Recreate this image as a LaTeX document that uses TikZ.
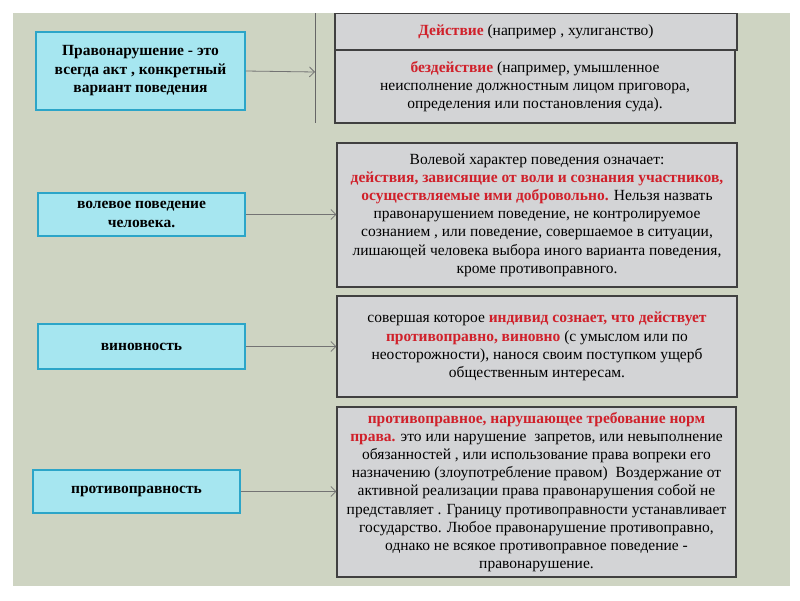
\documentclass[tikz,border=0pt]{standalone}
\usepackage{fontspec}
\setmainfont{Liberation Serif}
\usetikzlibrary{arrows.meta}
\definecolor{bg}{HTML}{CED4C2}
\definecolor{cy}{HTML}{A6E6F0}
\definecolor{cyb}{HTML}{2CA5C8}
\definecolor{gr}{HTML}{D3D4D6}
\definecolor{rd}{HTML}{D0202A}
\newcommand{\R}[1]{\textcolor{rd}{\textbf{#1}}}
\tikzset{
 lbox/.style={draw=cyb,fill=cy,line width=1.5pt,font=\fontsize{15.5}{18.5}\selectfont\bfseries,align=center,inner sep=0pt},
 gbox/.style={draw=black!75,fill=gr,line width=1.2pt,font=\fontsize{15.5}{18.2}\selectfont,align=center,inner sep=0pt},
 arr/.style={draw=black!55,line width=0.8pt,-{Straight Barb[length=5pt,width=10pt]}}
}
\begin{document}
\begin{tikzpicture}[x=1pt,y=-1pt]
\useasboundingbox (0,0) rectangle (800,600);
\fill[white] (0,0) rectangle (800,600);
\fill[bg] (13,13) rectangle (790,586);
\draw[black!60,line width=0.6pt] (315,13) -- (315,123);
\coordinate (v) at (315,72);
\node[lbox,minimum width=209,minimum height=78] (l1) at (140.5,71) {Правонарушение - это\\всегда акт , конкретный\\вариант поведения};
\node[lbox,minimum width=207,minimum height=43] (l2) at (141.5,214.5) {волевое поведение\\человека.};
\node[lbox,minimum width=207,minimum height=45] (l3) at (141.5,346.5) {виновность};
\node[lbox,minimum width=207,minimum height=43] (l4) at (136.5,491.5) {противоправность};
\node[gbox,minimum width=402,minimum height=37] (r0) at (536,32) {\R{Действие} (например , хулиганство)};
\node[gbox,minimum width=400,minimum height=73] (r1) at (535,86.5) {\R{бездействие} (например, умышленное\\неисполнение должностным лицом приговора,\\определения или постановления суда).};
\node[gbox,minimum width=400,minimum height=144] (r2) at (537,215) {Волевой характер поведения означает:\\\R{действия, зависящие от воли и сознания участников,}\\\R{осуществляемые ими добровольно.} Нельзя назвать\\правонарушением поведение, не контролируемое\\сознанием , или поведение, совершаемое в ситуации,\\лишающей человека выбора иного варианта поведения,\\кроме противоправного.};
\node[gbox,minimum width=400,minimum height=101] (r3) at (537,346.5) {совершая которое \R{индивид сознает, что действует}\\\R{противоправно, виновно} (с умыслом или по\\неосторожности), нанося своим поступком ущерб\\общественным интересам.};
\node[gbox,minimum width=399,minimum height=170] (r4) at (536.5,492) {\R{противоправное, нарушающее требование норм}\\\R{права.} это или нарушение\ \ запретов, или невыполнение\\обязанностей , или использование права вопреки его\\назначению (злоупотребление правом)\ \ Воздержание от\\активной реализации права правонарушения собой не\\представляет . Границу противоправности устанавливает\\государство. Любое правонарушение противоправно,\\однако не всякое противоправное поведение -\\правонарушение.};
\draw[arr] (l1.east) -- (v);
\draw[arr] (l2.east) -- (r2.west|-l2.east);
\draw[arr] (l3.east) -- (r3.west|-l3.east);
\draw[arr] (l4.east) -- (r4.west|-l4.east);
\end{tikzpicture}
\end{document}
